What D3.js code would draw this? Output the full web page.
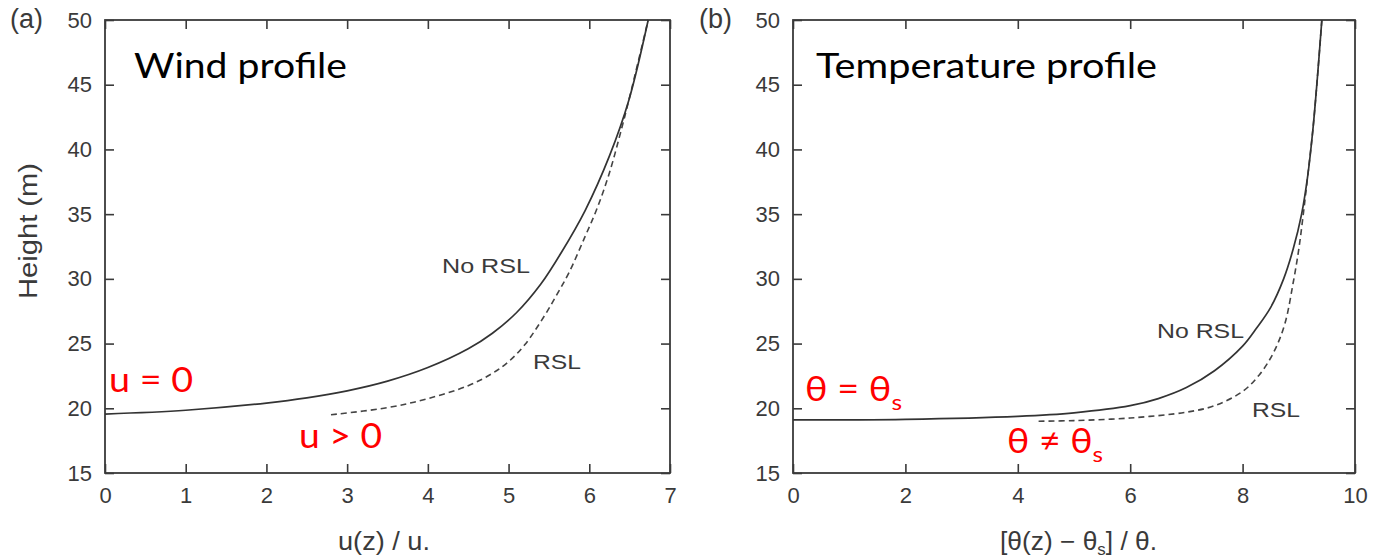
<!DOCTYPE html>
<html>
<head>
<meta charset="utf-8">
<script src="https://cdn.jsdelivr.net/npm/d3@7"></script>
<style>
  html, body { margin: 0; padding: 0; background: #fff; }
  svg { display: block; }
</style>
</head>
<body>
<svg id="chart" width="1374" height="560"></svg>
<script>
// Panel (a): normalised wind speed u(z)/u* against height (m)
const windNoRSL = [
  [0, 19.55], [1, 19.85], [2, 20.4], [2.5, 20.8], [3, 21.35], [3.5, 22.1], [4, 23.15],
  [4.5, 24.6], [4.8, 25.8], [5.1, 27.4], [5.4, 29.6], [5.65, 32], [5.95, 35.3],
  [6.25, 39.5], [6.49, 43.8], [6.73, 50]
];
const windRSL = [
  [2.8, 19.5], [3.5, 20.05], [4, 20.75], [4.5, 21.75], [4.8, 22.7], [5.0, 23.6],
  [5.2, 24.9], [5.45, 27.2], [5.6, 28.8], [5.75, 30.5], [5.95, 33.3], [6.1, 35.5],
  [6.25, 38.2], [6.4, 41.6], [6.49, 43.8], [6.73, 50]
];
// Panel (b): normalised potential temperature against height (m)
const tempNoRSL = [
  [0, 19.1], [2, 19.15], [4, 19.38], [5, 19.65], [6, 20.2], [6.5, 20.75], [7, 21.6],
  [7.5, 22.9], [8, 24.8], [8.25, 26.2], [8.5, 27.8], [8.73, 30], [8.9, 32.3],
  [9.05, 35], [9.16, 38], [9.25, 41.5], [9.33, 45.5], [9.41, 50]
];
const tempRSL = [
  [4.37, 19.0], [5, 19.05], [6, 19.25], [7, 19.7], [7.5, 20.2], [8, 21.3], [8.3, 22.6],
  [8.55, 24.3], [8.75, 26.5], [8.9, 29.7], [9.0, 32.3], [9.08, 35], [9.16, 38],
  [9.25, 41.5], [9.33, 45.5], [9.41, 50]
];

const heightTicks = [15, 20, 25, 30, 35, 40, 45, 50];
const windTicks = [0, 1, 2, 3, 4, 5, 6, 7];
const tempTicks = [0, 2, 4, 6, 8, 10];

const svg = d3.select("#chart");
const axisFont = "'Liberation Sans', Arial, Helvetica, sans-serif";
const noteFont = "Lato, 'Noto Sans', sans-serif";
const ink = "#3a3a3a";

function panel(opts) {
  const { left, right, top, bottom, xDomain, xTicks } = opts;
  const x = d3.scaleLinear().domain(xDomain).range([left, right]);
  const y = d3.scaleLinear().domain([15, 50]).range([bottom, top]);
  const g = svg.append("g");
  const tick = 9;

  const styleAxis = sel => {
    sel.select(".domain").remove();
    sel.selectAll(".tick line").attr("stroke", ink).attr("stroke-width", 1.6);
    sel.selectAll(".tick text")
      .attr("fill", ink).attr("font-family", axisFont).attr("font-size", 22);
  };

  g.append("g").attr("transform", `translate(0,${bottom})`)
    .call(d3.axisBottom(x).tickValues(xTicks).tickFormat(d3.format("d"))
      .tickSizeInner(-tick).tickSizeOuter(0).tickPadding(14))
    .call(styleAxis);
  g.append("g").attr("transform", `translate(0,${top})`)
    .call(d3.axisTop(x).tickValues(xTicks).tickFormat("")
      .tickSizeInner(-tick).tickSizeOuter(0))
    .call(styleAxis);
  g.append("g").attr("transform", `translate(${left},0)`)
    .call(d3.axisLeft(y).tickValues(heightTicks).tickFormat(d3.format("d"))
      .tickSizeInner(-tick).tickSizeOuter(0).tickPadding(13))
    .call(styleAxis);
  g.append("g").attr("transform", `translate(${right},0)`)
    .call(d3.axisRight(y).tickValues(heightTicks).tickFormat("")
      .tickSizeInner(-tick).tickSizeOuter(0))
    .call(styleAxis);

  // boxed frame
  g.append("rect")
    .attr("x", left).attr("y", top)
    .attr("width", right - left).attr("height", bottom - top)
    .attr("fill", "none").attr("stroke", ink).attr("stroke-width", 1.8);

  const line = d3.line().x(d => x(d[0])).y(d => y(d[1]))
    .curve(d3.curveCatmullRom.alpha(0.5));
  g.append("path").datum(opts.rsl).attr("d", line)
    .attr("fill", "none").attr("stroke", "#444").attr("stroke-width", 1.6)
    .attr("stroke-dasharray", "6,4");
  g.append("path").datum(opts.noRsl).attr("d", line)
    .attr("fill", "none").attr("stroke", "#333").attr("stroke-width", 1.7);

  return { g, x, y };
}

// ---- panel (a)
panel({ left: 105, right: 670, top: 20, bottom: 473,
  xDomain: [0, 7], xTicks: windTicks, noRsl: windNoRSL, rsl: windRSL });
// ---- panel (b)
panel({ left: 793, right: 1355, top: 20, bottom: 473,
  xDomain: [0, 10], xTicks: tempTicks, noRsl: tempNoRSL, rsl: tempRSL });

function txt(x, y, s, size, opt = {}) {
  const t = svg.append("text").attr("x", x).attr("y", y)
    .attr("font-family", opt.font || axisFont).attr("font-size", size)
    .attr("fill", opt.fill || ink).attr("text-anchor", opt.anchor || "start")
    .text(s);
  if (opt.len) t.attr("textLength", opt.len).attr("lengthAdjust", "spacingAndGlyphs");
  return t;
}

// panel letters
txt(10, 28, "(a)", 27);
txt(699, 28, "(b)", 27);

// axis titles
svg.append("text")
  .attr("transform", "translate(37,231) rotate(-90)")
  .attr("font-family", axisFont).attr("font-size", 25).attr("fill", ink)
  .attr("text-anchor", "middle")
  .attr("textLength", 136).attr("lengthAdjust", "spacingAndGlyphs")
  .text("Height (m)");
txt(384, 550, "u(z) / u.", 25, { anchor: "middle", len: 92 });

const tx = svg.append("text").attr("x", 1000).attr("y", 550)
  .attr("font-family", axisFont).attr("font-size", 25).attr("fill", ink)
  .attr("textLength", 157).attr("lengthAdjust", "spacingAndGlyphs");
tx.append("tspan").text("[θ(z) − θ");
tx.append("tspan").attr("font-size", 16).attr("dy", 5).text("s");
tx.append("tspan").attr("dy", -5).text("] / θ.");

// panel headings
txt(134, 78, "Wind profile", 35, { font: noteFont, fill: "#000", len: 213 });
txt(816, 78, "Temperature profile", 35, { font: noteFont, fill: "#000", len: 341 });

// curve labels
txt(442, 273, "No RSL", 21, { len: 88 });
txt(533, 369, "RSL", 21, { len: 48 });
txt(1157, 338, "No RSL", 21, { len: 87 });
txt(1252, 417, "RSL", 21, { len: 48 });

// red annotations
const red = "#ff0000";
txt(109, 392, "u = 0", 34, { font: noteFont, fill: red, len: 84 });
txt(299, 448, "u > 0", 34, { font: noteFont, fill: red, len: 83 });

function theta(x, y, op, len) {
  const t = svg.append("text").attr("x", x).attr("y", y)
    .attr("font-family", noteFont).attr("font-size", 34).attr("fill", red)
    .attr("textLength", len).attr("lengthAdjust", "spacingAndGlyphs");
  t.append("tspan").text(`θ ${op} θ`);
  t.append("tspan").attr("font-size", 22).attr("dy", 9).text("s");
}
theta(805, 401, "=", 97);
theta(1007, 453, "≠", 96);
</script>
</body>
</html>
